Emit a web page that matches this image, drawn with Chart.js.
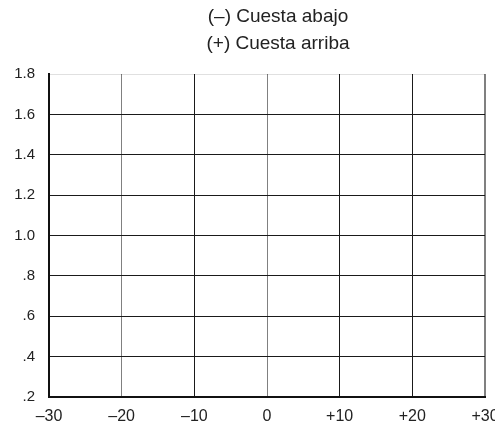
<!DOCTYPE html>
<html>
<head>
<meta charset="utf-8">
<script src="https://cdn.jsdelivr.net/npm/chart.js@4/dist/chart.umd.min.js"></script>
<style>
  html, body { margin: 0; padding: 0; background: #fff; }
  #wrap { width: 495px; height: 424px; }
</style>
</head>
<body>
<div id="wrap"><canvas id="c" width="495" height="424"></canvas></div>
<script>
// Title lines
const titleLines = ["(\u2013) Cuesta abajo", "(+) Cuesta arriba"];
// X axis ticks (grade, %)
const xTickValues = [-30, -20, -10, 0, 10, 20, 30];
const xTickLabels = ["\u201330", "\u201320", "\u201310", "0", "+10", "+20", "+30"];
// Y axis ticks
const yTickValues = [0.2, 0.4, 0.6, 0.8, 1.0, 1.2, 1.4, 1.6, 1.8];
const yTickLabels = [".2", ".4", ".6", ".8", "1.0", "1.2", "1.4", "1.6", "1.8"];
// No data series are plotted in the reference (empty grid)
const seriesValues = [];

const FONT = "'Liberation Sans', Arial, Helvetica, sans-serif";

const titlePlugin = {
  id: 'topTitle',
  afterDraw(chart) {
    const ctx = chart.ctx;
    const a = chart.chartArea;
    ctx.save();
    ctx.fillStyle = '#222';
    ctx.font = '19px ' + FONT;
    ctx.textAlign = 'center';
    ctx.textBaseline = 'middle';
    const cx = (a.left + a.right) / 2 + 11;
    ctx.fillText(titleLines[0], cx, a.top - 57);
    ctx.fillText(titleLines[1], cx, a.top - 30);
    ctx.restore();
  }
};

new Chart(document.getElementById('c'), {
  type: 'scatter',
  data: { datasets: [{ data: seriesValues, showLine: false }] },
  options: {
    responsive: false,
    animation: false,
    layout: { padding: { top: 74, right: 10, left: 0, bottom: 0 } },
    plugins: { legend: { display: false }, tooltip: { enabled: false }, title: { display: false } },
    scales: {
      x: {
        type: 'linear',
        min: -30, max: 30,
        afterBuildTicks(scale) { scale.ticks = xTickValues.map(v => ({ value: v })); },
        afterFit(scale) { scale.height = 27; scale.paddingLeft = 0; scale.paddingRight = 0; },
        ticks: {
          padding: 10,
          color: '#222',
          font: { family: FONT, size: 16 },
          maxRotation: 0,
          autoSkip: false,
          callback: (v, i) => xTickLabels[i]
        },
        grid: {
          drawTicks: false,
          lineWidth: (c) => (c.tick && c.tick.value === 30) ? 2 : 1,
          color: (c) => {
            const v = c.tick && c.tick.value;
            if (v === -20 || v === 0 || v === 30) return '#808080';
            return '#1a1a1a';
          }
        },
        border: { display: true, color: '#111', width: 2 }
      },
      y: {
        type: 'linear',
        min: 0.2, max: 1.8,
        afterBuildTicks(scale) { scale.ticks = yTickValues.map(v => ({ value: v })); },
        afterFit(scale) { scale.width = 49; scale.paddingTop = 0; scale.paddingBottom = 0; },
        ticks: {
          padding: 14,
          color: '#222',
          font: { family: FONT, size: 15 },
          autoSkip: false,
          callback: (v, i) => yTickLabels[i]
        },
        grid: {
          drawTicks: false,
          lineWidth: 1,
          color: (c) => {
            const v = c.tick && c.tick.value;
            if (v === 1.8) return 'rgba(0,0,0,0.12)';
            return '#1a1a1a';
          }
        },
        border: { display: true, color: '#111', width: 2 }
      }
    }
  },
  plugins: [titlePlugin]
});
</script>
</body>
</html>
